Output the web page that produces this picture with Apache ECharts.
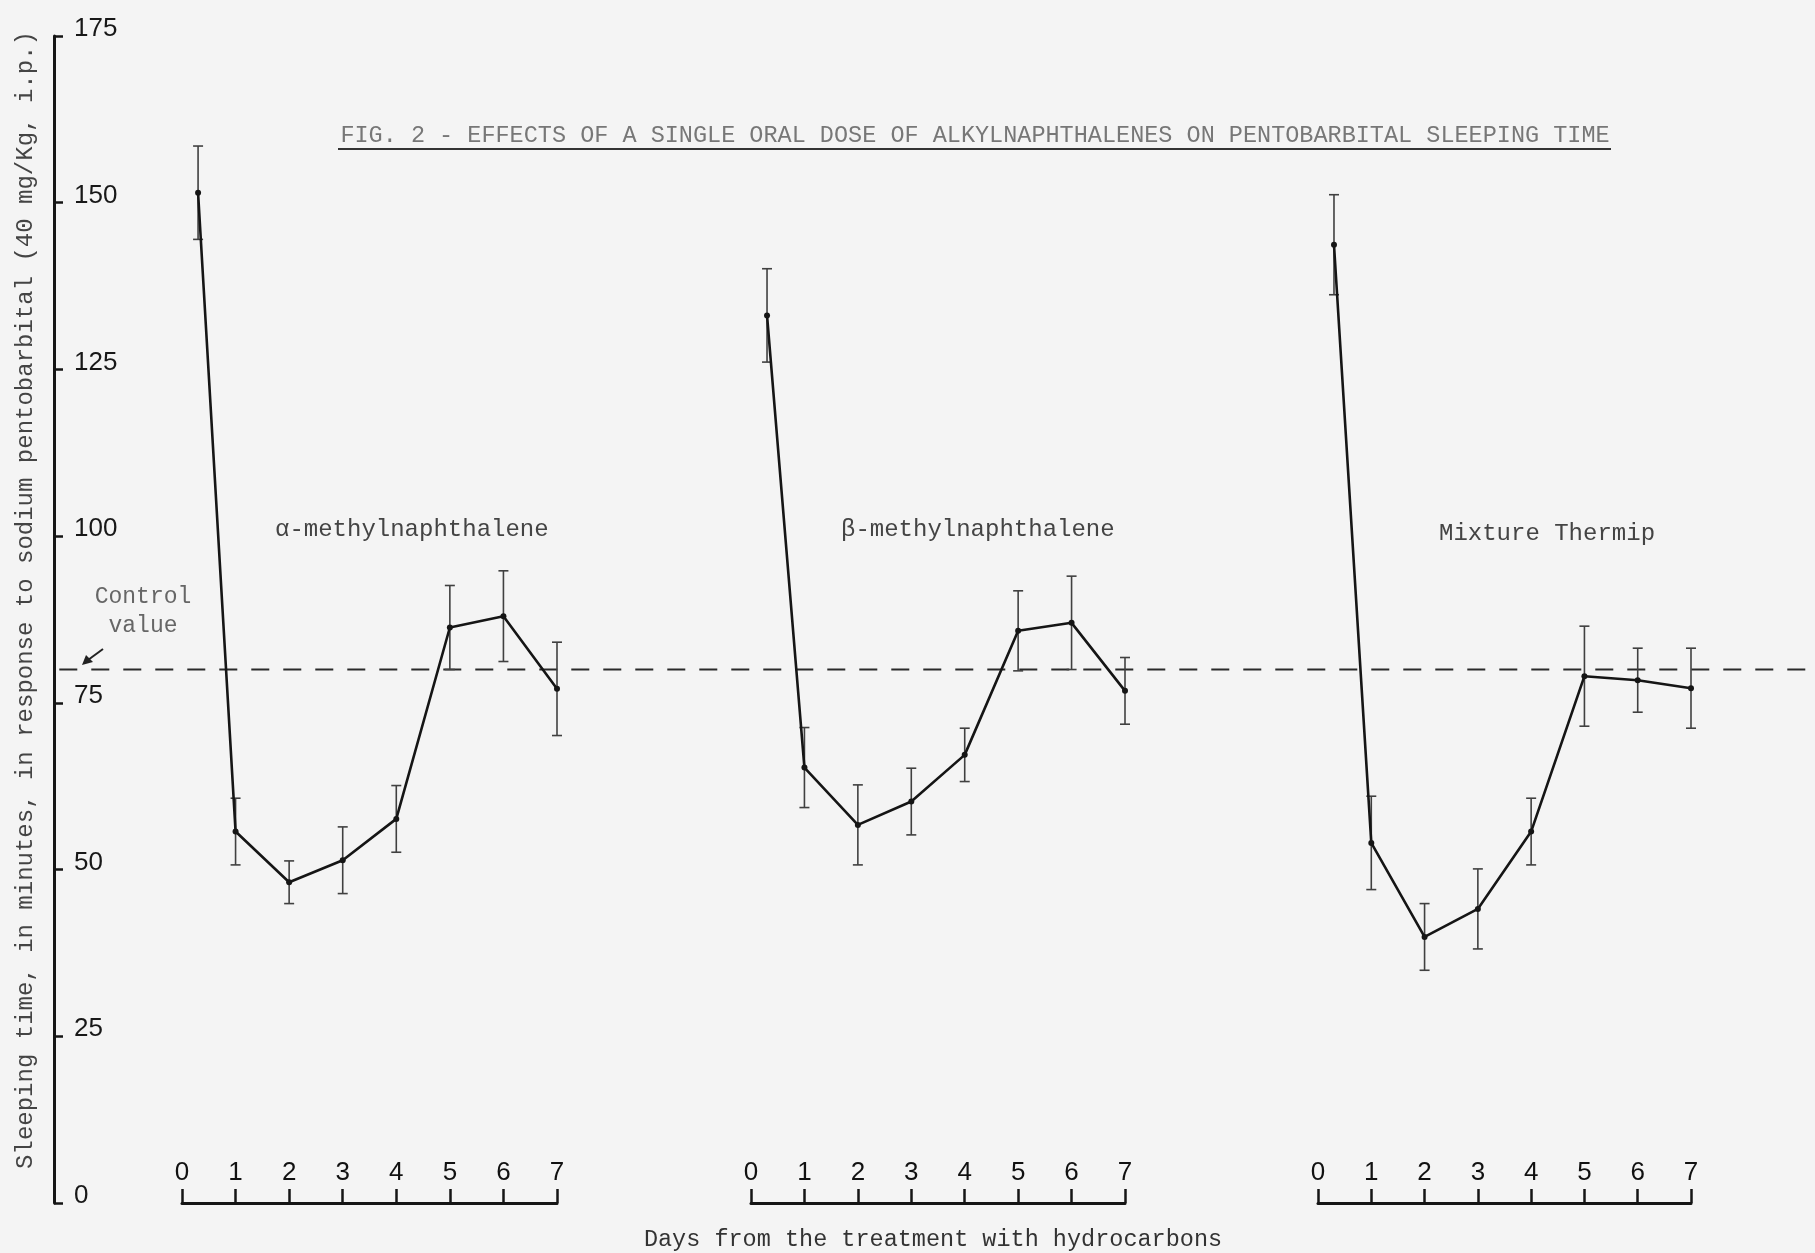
<!DOCTYPE html>
<html>
<head>
<meta charset="utf-8">
<script src="https://cdn.jsdelivr.net/npm/echarts@6/dist/echarts.min.js"></script>
<style>
  html, body { margin: 0; padding: 0; background: #f4f4f4; }
  #chart { width: 1815px; height: 1253px; }
</style>
</head>
<body>
<div id="chart"></div>
<script>
// Days after dosing (axis ticks) and the day positions where each measurement sits
const days = [0, 1, 2, 3, 4, 5, 6, 7];
const pointDays = [0.3, 1, 2, 3, 4, 5, 6, 7];

// Mean sleeping time (min) and its error (± min) per group
const alphaMean = [151.5, 55.7, 48.1, 51.4, 57.6, 86.3, 88.0, 77.1];
const alphaErr  = [7.0, 5.0, 3.2, 5.0, 5.0, 6.3, 6.8, 7.0];
const betaMean  = [133.1, 65.3, 56.7, 60.2, 67.2, 85.8, 87.0, 76.8];
const betaErr   = [7.0, 6.0, 6.0, 5.0, 4.0, 6.0, 7.0, 5.0];
const mixMean   = [143.7, 54.0, 39.9, 44.1, 55.7, 79.0, 78.4, 77.2];
const mixErr    = [7.5, 7.0, 5.0, 6.0, 5.0, 7.5, 4.8, 6.0];

const controlValue = 80;
const yMin = 0, yMax = 175, yStep = 25;

const groupNames = ['α-methylnaphthalene', 'β-methylnaphthalene', 'Mixture Thermip'];
const groups = [
  { mean: alphaMean, err: alphaErr },
  { mean: betaMean,  err: betaErr },
  { mean: mixMean,   err: mixErr }
];

const mono = '"Liberation Mono", "DejaVu Sans Mono", monospace';
const sans = '"Liberation Sans", Arial, sans-serif';
const ink = '#151515';

const gridTop = 36, gridBottom = 50;
const groupGrids = [
  { left: 182, width: 375 },
  { left: 751, width: 374 },
  { left: 1318, width: 373 }
];

const grids = groupGrids.map(g => ({ left: g.left, width: g.width, top: gridTop, bottom: gridBottom }));
grids.push({ left: 54, right: 0, top: gridTop, bottom: gridBottom });

const xAxes = groupGrids.map((g, i) => ({
  type: 'value', gridIndex: i, min: days[0], max: days[days.length - 1], interval: 1,
  axisLine: { show: true, onZero: true, lineStyle: { color: ink, width: 3 } },
  axisTick: { show: true, inside: true, length: 14, lineStyle: { color: ink, width: 2.5 } },
  axisLabel: { inside: true, margin: 17, fontFamily: sans, fontSize: 26, color: '#111' },
  splitLine: { show: false }
}));
xAxes.push({ type: 'value', gridIndex: 3, min: 0, max: 1, show: false });

const yAxes = groupGrids.map((g, i) => ({
  type: 'value', gridIndex: i, min: yMin, max: yMax, interval: yStep, show: false
}));
yAxes.push({
  type: 'value', gridIndex: 3, min: yMin, max: yMax, interval: yStep,
  axisLine: { show: true, lineStyle: { color: ink, width: 3 } },
  axisTick: { show: true, inside: true, length: 9, lineStyle: { color: ink, width: 2.5 } },
  axisLabel: {
    inside: true, margin: 20, fontFamily: sans, fontSize: 26, color: '#181818',
    verticalAlign: 'bottom', lineHeight: 14
  },
  splitLine: { show: false }
});

// Vertical error bar with short serifs at both ends
function errorBarItem(params, api) {
  const x = api.value(0);
  const lo = api.coord([x, api.value(1)]);
  const hi = api.coord([x, api.value(2)]);
  const half = 5;
  const style = { stroke: '#404040', lineWidth: 1.6, fill: null };
  return {
    type: 'group',
    children: [
      { type: 'line', shape: { x1: lo[0], y1: lo[1], x2: hi[0], y2: hi[1] }, style },
      { type: 'line', shape: { x1: hi[0] - half, y1: hi[1], x2: hi[0] + half, y2: hi[1] }, style },
      { type: 'line', shape: { x1: lo[0] - half, y1: lo[1], x2: lo[0] + half, y2: lo[1] }, style }
    ]
  };
}

const series = [];
// control value, dashed across the whole width
series.push({
  type: 'line', xAxisIndex: 3, yAxisIndex: 3, symbol: 'none', silent: true,
  data: [[0.003, controlValue], [1, controlValue]],
  lineStyle: { color: '#2a2a2a', width: 2.2, type: [18, 14] }, z: 1
});

groups.forEach((g, i) => {
  series.push({
    type: 'custom', xAxisIndex: i, yAxisIndex: i, clip: false, z: 2,
    renderItem: errorBarItem,
    data: pointDays.map((d, k) => [d, g.mean[k] - g.err[k], g.mean[k] + g.err[k]])
  });
  series.push({
    type: 'line', xAxisIndex: i, yAxisIndex: i, z: 3, clip: false,
    data: pointDays.map((d, k) => [d, g.mean[k]]),
    symbol: 'circle', symbolSize: 6,
    itemStyle: { color: ink },
    lineStyle: { color: ink, width: 2.6 }
  });
});

const titleText = 'FIG. 2 - EFFECTS OF A SINGLE ORAL DOSE OF ALKYLNAPHTHALENES ON PENTOBARBITAL SLEEPING TIME';
const yName = 'Sleeping time, in minutes, in response to sodium pentobarbital (40 mg/Kg, i.p.)';
const xName = 'Days from the treatment with hydrocarbons';

const textStyle = (size, color) => ({ font: `${size}px ${mono}`, fill: color });

const graphics = [
  { type: 'text', x: 975, y: 136, style: Object.assign({ text: titleText, align: 'center', verticalAlign: 'middle' }, textStyle(23.5, '#777')) },
  { type: 'line', shape: { x1: 338, y1: 149, x2: 1611, y2: 149 }, style: { stroke: '#333', lineWidth: 2 } },
  { type: 'text', x: 26, y: 600, rotation: Math.PI / 2, style: Object.assign({ text: yName, align: 'center', verticalAlign: 'middle' }, textStyle(24, '#444')) },
  { type: 'text', x: 933, y: 1240, style: Object.assign({ text: xName, align: 'center', verticalAlign: 'middle' }, textStyle(23.5, '#333')) },
  { type: 'text', x: 275, y: 530, style: Object.assign({ text: groupNames[0], align: 'left', verticalAlign: 'middle' }, textStyle(24, '#444')) },
  { type: 'text', x: 841, y: 530, style: Object.assign({ text: groupNames[1], align: 'left', verticalAlign: 'middle' }, textStyle(24, '#444')) },
  { type: 'text', x: 1439, y: 534, style: Object.assign({ text: groupNames[2], align: 'left', verticalAlign: 'middle' }, textStyle(24, '#444')) },
  { type: 'text', x: 143, y: 597, style: Object.assign({ text: 'Control', align: 'center', verticalAlign: 'middle' }, textStyle(23, '#666')) },
  { type: 'text', x: 143, y: 626, style: Object.assign({ text: 'value', align: 'center', verticalAlign: 'middle' }, textStyle(23, '#666')) },
  { type: 'line', shape: { x1: 103, y1: 649, x2: 88, y2: 660 }, style: { stroke: '#222', lineWidth: 2 } },
  { type: 'polygon', shape: { points: [[82, 665], [86, 655], [93, 662]] }, style: { fill: '#222' } }
];

const chart = echarts.init(document.getElementById('chart'), null, { renderer: 'canvas' });
chart.setOption({
  backgroundColor: '#f4f4f4',
  animation: false,
  grid: grids,
  xAxis: xAxes,
  yAxis: yAxes,
  series: series,
  graphic: graphics
});
</script>
</body>
</html>
